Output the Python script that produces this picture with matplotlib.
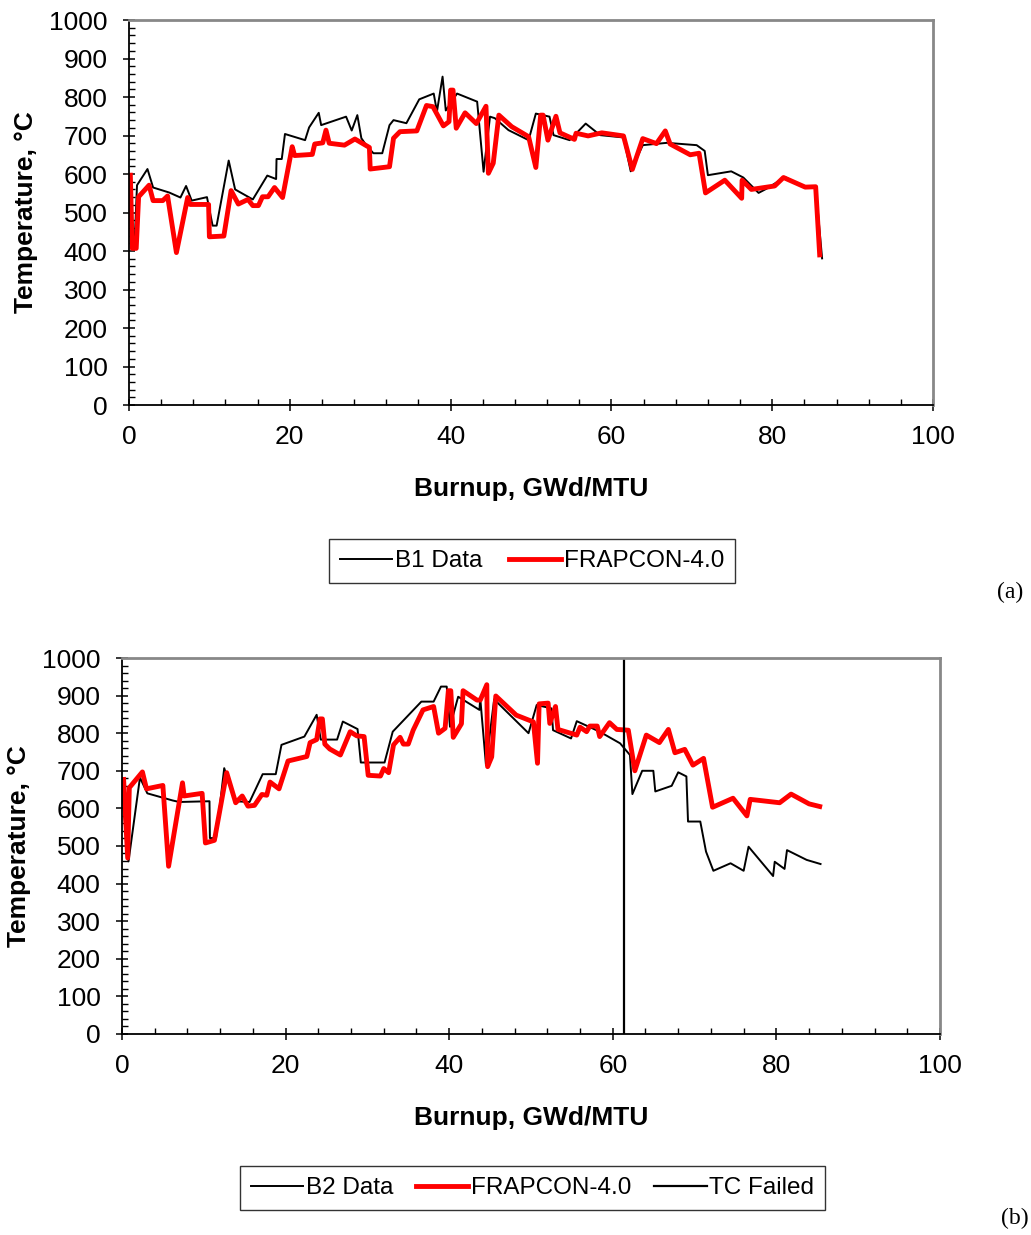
import matplotlib
matplotlib.use("Agg")
import matplotlib.pyplot as plt
from matplotlib.ticker import MultipleLocator

plt.rcParams['font.family'] = ['Liberation Sans', 'DejaVu Sans']

# (a) B1 data and FRAPCON-4.0
b1_burnup = [0.1, 0.4, 0.7, 1.0, 2.3, 3.0, 5.0, 6.4, 7.1, 7.8, 9.7, 10.4, 10.9, 12.4, 13.2, 15.4, 17.2, 18.3, 18.35, 19.0,
             19.4, 21.9, 22.4, 23.6, 23.9, 27.0, 27.7, 28.4, 28.9, 29.5, 30.4, 31.5, 32.4, 32.9, 34.5, 36.1, 37.9, 38.3, 39.0, 39.4,
             40.8, 43.3, 44.1, 44.9, 45.5, 47.2, 49.7, 50.6, 52.3, 52.8, 54.8, 56.8, 58.6, 61.5, 62.4, 63.9, 66.9, 70.6, 71.6, 72.0,
             74.9, 76.4, 78.3, 79.3, 81.6, 83.9, 85.4, 86.2]
b1_temp = [590, 430, 420, 571, 613, 565, 552, 539, 569, 531, 540, 466, 466, 635, 560, 534, 596, 587, 639, 639,
           704, 688, 721, 759, 727, 749, 713, 753, 693, 675, 654, 654, 727, 740, 732, 794, 809, 762, 853, 765,
           809, 788, 606, 749, 745, 714, 688, 757, 749, 701, 688, 731, 701, 695, 607, 675, 681, 675, 660, 597,
           607, 591, 551, 562, 592, 567, 567, 381]

fr1_burnup = [0.17, 0.4, 0.9, 1.2, 2.5, 3.0, 4.2, 4.8, 5.9, 7.3, 7.6, 9.9, 10.0, 11.8, 12.7, 13.6, 14.8, 15.4, 16.1, 16.6,
              17.3, 18.1, 19.1, 20.3, 20.6, 22.8, 23.1, 24.1, 24.5, 24.9, 26.8, 28.1, 29.9, 30.0, 32.4, 32.9, 33.7, 35.8, 37.0, 37.8,
              39.1, 39.8, 40.0, 40.3, 40.7, 41.8, 43.2, 44.4, 44.7, 45.3, 46.0, 47.6, 49.7, 50.6, 51.2, 51.5, 52.1, 53.1, 53.6, 55.4,
              55.6, 57.1, 58.8, 61.5, 62.6, 63.9, 65.6, 66.7, 67.3, 69.8, 70.9, 71.7, 74.1, 76.2, 76.25, 77.4, 80.3, 81.4, 84.1, 85.4,
              85.9]
fr1_temp = [597, 407, 407, 541, 571, 531, 531, 543, 396, 539, 521, 521, 437, 439, 557, 522, 534, 518, 518, 541,
            541, 565, 539, 671, 648, 651, 678, 681, 714, 680, 675, 691, 669, 613, 619, 693, 710, 712, 778, 775,
            725, 736, 818, 818, 719, 759, 731, 776, 602, 628, 753, 723, 697, 617, 753, 753, 688, 750, 707, 690,
            706, 699, 707, 699, 612, 692, 679, 712, 678, 650, 654, 551, 584, 537, 584, 560, 569, 591, 566, 567,
            390]

# (b) B2 data and FRAPCON-4.0
b2_burnup = [0.0, 0.8, 2.2, 3.1, 6.2, 7.0, 10.7, 10.75, 11.5, 12.5, 13.8, 15.6, 17.2, 18.8, 19.5, 22.3, 23.8, 24.3, 26.3, 27.0,
             28.8, 29.2, 32.1, 33.1, 36.6, 38.1, 39.0, 39.7, 40.1, 41.1, 43.7, 43.8, 44.5, 45.5, 49.7, 50.7, 52.5, 52.7, 54.9, 55.6,
             58.4, 60.9, 62.1, 62.4, 63.6, 64.96, 65.2, 67.2, 68.0, 69.0, 69.2, 70.7, 71.4, 72.3, 74.4, 76.0, 76.6, 79.6, 79.8, 81.0,
             81.3, 83.7, 85.4]
b2_temp = [650, 459, 682, 640, 621, 617, 619, 521, 521, 707, 619, 617, 691, 691, 769, 791, 849, 783, 783, 831,
           811, 722, 722, 804, 884, 884, 924, 924, 817, 897, 862, 893, 715, 890, 800, 875, 866, 808, 786, 832,
           804, 773, 742, 638, 700, 700, 645, 660, 696, 685, 565, 565, 485, 434, 454, 434, 498, 420, 458, 439,
           489, 463, 452]

fr2_burnup = [0.2, 0.7, 0.9, 2.5, 3.0, 5.0, 5.7, 7.4, 7.6, 9.8, 10.2, 11.3, 12.8, 13.9, 14.7, 15.4, 16.2, 17.1, 17.7, 18.1,
              19.2, 20.3, 22.6, 23.0, 23.8, 24.2, 24.5, 24.8, 25.4, 26.7, 27.9, 28.7, 29.6, 30.1, 31.6, 32.0, 32.6, 33.2, 34.0, 34.4,
              35.0, 35.6, 36.8, 38.1, 38.7, 39.5, 39.9, 40.2, 40.5, 41.5, 41.7, 43.4, 43.8, 44.6, 44.7, 45.2, 45.7, 48.2, 50.3, 50.8,
              51.0, 52.1, 52.3, 53.0, 53.3, 55.6, 56.0, 56.8, 57.2, 58.1, 58.4, 59.6, 60.5, 61.9, 62.7, 64.1, 65.7, 66.8, 67.6, 68.8,
              69.8, 71.1, 72.2, 74.7, 76.4, 76.8, 80.4, 81.8, 84.0, 85.3]
fr2_temp = [677, 468, 655, 697, 652, 661, 446, 668, 633, 640, 508, 515, 695, 615, 633, 606, 608, 637, 635, 670,
            652, 726, 738, 775, 783, 838, 838, 771, 758, 742, 804, 793, 791, 688, 686, 706, 695, 769, 789, 771,
            771, 808, 862, 871, 800, 813, 913, 913, 789, 825, 913, 888, 888, 929, 711, 737, 899, 848, 830, 720,
            878, 880, 826, 871, 810, 795, 816, 804, 819, 819, 791, 828, 810, 808, 700, 795, 775, 810, 748, 757,
            715, 733, 603, 627, 580, 624, 615, 638, 612, 605]

tc_failed = 61.4

fig = plt.figure(figsize=(10.31, 12.35), dpi=100)
ax1 = fig.add_axes([0.1251, 0.672, 0.7799, 0.3118])
ax2 = fig.add_axes([0.1183, 0.1628, 0.7934, 0.3044])


def style_axes(ax):
    ax.set_xlim(0, 100)
    ax.set_ylim(0, 1000)
    ax.xaxis.set_major_locator(MultipleLocator(20))
    ax.xaxis.set_minor_locator(MultipleLocator(4))
    ax.yaxis.set_major_locator(MultipleLocator(100))
    ax.yaxis.set_minor_locator(MultipleLocator(20))
    ax.tick_params(which='major', direction='inout', length=9, width=1.1, labelsize=19, pad=10)
    ax.tick_params(which='minor', direction='in', length=4.5, width=1.0)
    ax.tick_params(axis='y', which='major', pad=11)
    for s in ['left', 'bottom']:
        ax.spines[s].set_color('black')
        ax.spines[s].set_linewidth(1.3)
    for s in ['top', 'right']:
        ax.spines[s].set_color('#888888')
        ax.spines[s].set_linewidth(2)
    ax.set_xlabel('Burnup, GWd/MTU', fontsize=19, fontweight='bold', labelpad=20)
    ax.set_ylabel('Temperature, °C', fontsize=19, fontweight='bold', labelpad=8)


style_axes(ax1)
ax1.plot(b1_burnup, b1_temp, color='black', lw=1.4, label='B1 Data')
ax1.plot(fr1_burnup, fr1_temp, color='#ff0000', lw=3.5, label='FRAPCON-4.0')
leg1 = ax1.legend(loc='center', bbox_to_anchor=(0.516, 0.5457), bbox_transform=fig.transFigure,
                  ncol=2, fontsize=17.5, frameon=True, fancybox=False, handlelength=2.15,
                  handletextpad=0.1, columnspacing=1.1, borderpad=0.45)
leg1.get_frame().set_edgecolor('black')
leg1.get_frame().set_linewidth(1.0)

style_axes(ax2)
ax2.plot(b2_burnup, b2_temp, color='black', lw=1.4, label='B2 Data')
ax2.plot(fr2_burnup, fr2_temp, color='#ff0000', lw=3.5, label='FRAPCON-4.0')
ax2.plot([tc_failed, tc_failed], [0, 1000], color='black', lw=1.6, label='TC Failed')
leg2 = ax2.legend(loc='center', bbox_to_anchor=(0.5165, 0.0377), bbox_transform=fig.transFigure,
                  ncol=3, fontsize=17.5, frameon=True, fancybox=False, handlelength=2.15,
                  handletextpad=0.1, columnspacing=0.95, borderpad=0.45)
leg2.get_frame().set_edgecolor('black')
leg2.get_frame().set_linewidth(1.0)

fig.text(0.98, 0.5206, '(a)', fontsize=17, family='Liberation Serif', ha='center', va='center')
fig.text(0.984, 0.0138, '(b)', fontsize=17, family='Liberation Serif', ha='center', va='center')

fig.savefig('out.png', dpi=100)
